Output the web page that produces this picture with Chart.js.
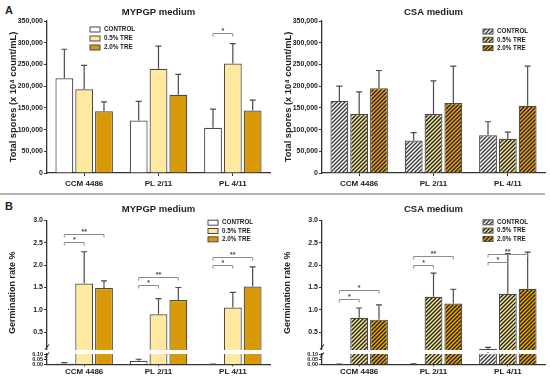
<!DOCTYPE html>
<html>
<head>
<meta charset="utf-8">
<script src="https://cdn.jsdelivr.net/npm/chart.js@4.4.1/dist/chart.umd.min.js"></script>
<style>
  body { margin: 0; background: #fff; width: 550px; height: 386px; position: relative; overflow: hidden; }
  canvas { position: absolute; }
  .tag { position: absolute; font: bold 11px 'Liberation Sans', sans-serif; color: #222; }
  .rule { position: absolute; left: 0; top: 193px; width: 545px; height: 2px; background: #b4b4b4; }
</style>
</head>
<body>
<div class="tag" style="left:5px;top:4px">A</div>
<div class="rule"></div>
<div class="tag" style="left:5px;top:200px">B</div>
<canvas id="aLeft" width="275" height="190" style="left:0;top:0"></canvas>
<canvas id="aRight" width="275" height="190" style="left:275px;top:0"></canvas>
<canvas id="bLeftUp" width="275" height="155" style="left:0;top:195px"></canvas>
<canvas id="bLeftLow" width="275" height="36" style="left:0;top:350px"></canvas>
<canvas id="bRightUp" width="275" height="155" style="left:275px;top:195px"></canvas>
<canvas id="bRightLow" width="275" height="36" style="left:275px;top:350px"></canvas>
<script>
const categories = ['CCM 4486', 'PL 2/11', 'PL 4/11'];
const seriesNames = ['CONTROL', '0.5% TRE', '2.0% TRE'];

// A - total spores (x 10^4 count/mL), mean and SD
const sporesMypgpControl = [218000, 121000, 104000];
const sporesMypgpControlSd = [67000, 44000, 43000];
const sporesMypgpTre05 = [193000, 240000, 252000];
const sporesMypgpTre05Sd = [55000, 52000, 46000];
const sporesMypgpTre20 = [142000, 180000, 144000];
const sporesMypgpTre20Sd = [22000, 47000, 24000];

const sporesCsaControl = [166000, 75000, 87000];
const sporesCsaControlSd = [34000, 18000, 31000];
const sporesCsaTre05 = [136000, 136000, 79000];
const sporesCsaTre05Sd = [51000, 76000, 15000];
const sporesCsaTre20 = [195000, 161000, 155000];
const sporesCsaTre20Sd = [41000, 85000, 91000];

// B - germination rate %
const germMypgpControl = [0.010, 0.040, 0.002];
const germMypgpControlSd = [0.010, 0.015, 0.002];
const germMypgpTre05 = [1.59, 0.90, 1.05];
const germMypgpTre05Sd = [0.71, 0.35, 0.34];
const germMypgpTre20 = [1.49, 1.22, 1.52];
const germMypgpTre20Sd = [0.16, 0.28, 0.44];

const germCsaControl = [0.002, 0.005, 0.12];
const germCsaControlSd = [0.001, 0.003, 0.04];
const germCsaTre05 = [0.82, 1.29, 1.36];
const germCsaTre05Sd = [0.22, 0.53, 0.90];
const germCsaTre20 = [0.78, 1.14, 1.47];
const germCsaTre20Sd = [0.33, 0.32, 0.82];

// significance: [category, compared series, level, mark]
const bracketsSporesMypgp = [[2, 1, 322000, '*']];
const bracketsGermMypgp = [[0, 1, 2.51, '*'], [0, 2, 2.70, '**'], [1, 1, 1.55, '*'], [1, 2, 1.74, '**'], [2, 1, 2.00, '*'], [2, 2, 2.19, '**']];
const bracketsGermCsa = [[0, 1, 1.24, '*'], [0, 2, 1.44, '*'], [1, 1, 2.01, '*'], [1, 2, 2.20, '**'], [2, 1, 2.06, '*'], [2, 2, 2.24, '**']];

const sporeTicks = [0, 50000, 100000, 150000, 200000, 250000, 300000, 350000];
const germTicksUpper = [0.5, 1.0, 1.5, 2.0, 2.5, 3.0];
const germTicksLower = [0, 0.05, 0.10];

const FONT = "'Liberation Sans', Arial, sans-serif";
const INK = '#222';
const LINE = '#4a4a4a';

function hatch(base, stroke) {
  const c = document.createElement('canvas');
  c.width = c.height = 4;
  const g = c.getContext('2d');
  g.fillStyle = base;
  g.fillRect(0, 0, 4, 4);
  g.strokeStyle = stroke;
  g.lineWidth = 1.4;
  g.beginPath();
  g.moveTo(-1, 5); g.lineTo(5, -1);
  g.moveTo(-1, 1); g.lineTo(1, -1);
  g.moveTo(3, 5); g.lineTo(5, 3);
  g.stroke();
  return g.createPattern(c, 'repeat');
}

const solidFills = ['#ffffff', '#ffe8a0', '#d99a0a'];
const hatchFills = [hatch('#ffffff', '#3a3a3a'), hatch('#fbe98e', '#222'), hatch('#f0a500', '#222')];

const errorBars = {
  id: 'errorBars',
  afterDatasetsDraw(chart) {
    const { ctx, chartArea: a, scales: { y } } = chart;
    ctx.save();
    ctx.beginPath();
    ctx.rect(a.left, a.top - 2, a.width, a.height + 2);
    ctx.clip();
    ctx.strokeStyle = LINE;
    ctx.lineWidth = 1.2;
    chart.data.datasets.forEach((ds, i) => {
      chart.getDatasetMeta(i).data.forEach((bar, j) => {
        const base = y.getPixelForValue(ds.data[j]);
        const top = y.getPixelForValue(ds.data[j] + ds.errors[j]);
        ctx.beginPath();
        ctx.moveTo(bar.x, base);
        ctx.lineTo(bar.x, top);
        ctx.moveTo(bar.x - 3, top);
        ctx.lineTo(bar.x + 3, top);
        ctx.stroke();
      });
    });
    ctx.restore();
  }
};

const brackets = {
  id: 'brackets',
  afterDatasetsDraw(chart, args, opts) {
    const { ctx, scales: { y } } = chart;
    ctx.save();
    ctx.strokeStyle = '#8c8c8c';
    ctx.lineWidth = 1;
    ctx.fillStyle = '#444';
    ctx.font = 'bold 7px ' + FONT;
    ctx.textAlign = 'center';
    ctx.textBaseline = 'bottom';
    (opts.items || []).forEach(([cat, s, level, mark]) => {
      const x0 = chart.getDatasetMeta(0).data[cat].x;
      const x1 = chart.getDatasetMeta(s).data[cat].x;
      const py = Math.round(y.getPixelForValue(level)) + 0.5;
      ctx.beginPath();
      ctx.moveTo(x0, py + 3);
      ctx.lineTo(x0, py);
      ctx.lineTo(x1, py);
      ctx.lineTo(x1, py + 3);
      ctx.stroke();
      ctx.fillText(mark, (x0 + x1) / 2, py + 1);
    });
    ctx.restore();
  }
};

const boxLegend = {
  id: 'boxLegend',
  afterDraw(chart, args, o) {
    const ctx = chart.ctx;
    ctx.save();
    ctx.font = 'bold 6.3px ' + FONT;
    ctx.textBaseline = 'middle';
    chart.data.datasets.forEach((ds, i) => {
      const cy = o.y + i * o.gap;
      ctx.fillStyle = ds.backgroundColor;
      ctx.fillRect(o.x, cy - 2.5, 10, 5);
      ctx.strokeStyle = LINE;
      ctx.lineWidth = 1;
      ctx.strokeRect(o.x, cy - 2.5, 10, 5);
      ctx.fillStyle = INK;
      ctx.fillText(ds.label, o.x + 14, cy);
    });
    ctx.restore();
  }
};

const axisBreak = {
  id: 'axisBreak',
  afterDraw(chart, args, o) {
    const { ctx, chartArea: a } = chart;
    const x = a.left;
    const yy = o.at === 'bottom' ? a.bottom - 3 : a.top + 1;
    ctx.save();
    ctx.strokeStyle = '#333';
    ctx.lineWidth = 1.2;
    ctx.beginPath();
    ctx.moveTo(x - 2, yy + 2.5);
    ctx.lineTo(x + 2, yy - 2.5);
    ctx.stroke();
    ctx.restore();
  }
};

function makeChart(id, p) {
  return new Chart(document.getElementById(id), {
    type: 'bar',
    data: {
      labels: categories,
      datasets: p.values.map((v, i) => ({
        label: seriesNames[i],
        data: v,
        errors: p.sds[i],
        backgroundColor: p.fills[i],
        borderColor: LINE,
        borderWidth: 1.2,
        categoryPercentage: 0.8,
        barPercentage: 0.9,
        clip: 0
      }))
    },
    options: {
      responsive: false,
      animation: false,
      events: [],
      layout: { padding: { left: 0, right: 5, top: p.padTop || 0, bottom: 0 } },
      plugins: {
        legend: { display: false },
        tooltip: { enabled: false },
        title: p.title ? {
          display: true, text: p.title, fullSize: false, color: INK,
          font: { family: FONT, size: 9.5, weight: 'bold' }, padding: p.titlePad
        } : { display: false },
        brackets: { items: p.brackets || [] },
        boxLegend: p.legend || false,
        axisBreak: p.brk || false
      },
      scales: {
        x: {
          display: p.showX !== false,
          grid: { display: true, drawOnChartArea: false, offset: false, tickLength: p.xTick, color: '#333' },
          border: { color: '#333', width: 1.3 },
          ticks: { color: INK, font: { family: FONT, size: 8, weight: 'bold' }, padding: p.xPad, maxRotation: 0 },
          afterFit: s => { s.height = p.xHeight || 0; s.paddingLeft = 0; s.paddingRight = 0; }
        },
        y: {
          min: p.min, max: p.max,
          afterBuildTicks: s => { s.ticks = p.ticks.map(v => ({ value: v })); },
          afterFit: s => { s.width = 47; s.paddingTop = 0; s.paddingBottom = 0; },
          grid: { display: true, drawOnChartArea: false, tickLength: 3, color: '#333' },
          border: { color: '#333', width: 1.3 },
          ticks: { color: INK, autoSkip: false, padding: 1, font: { family: FONT, size: p.yFont || 7, weight: 'bold' }, callback: p.fmt },
          title: p.yTitle ? {
            display: true, text: p.yTitle, color: INK,
            font: { family: FONT, size: p.yTitleSize, weight: 'bold' }, padding: { top: 7.5, bottom: 0 }
          } : { display: false }
        }
      }
    },
    plugins: [errorBars, brackets, boxLegend, axisBreak]
  });
}

const fmtSpores = v => v.toLocaleString('en-US');
const fmtUpper = v => v.toFixed(1);
const fmtLower = v => v.toFixed(2);

const sporesMypgp = [sporesMypgpControl, sporesMypgpTre05, sporesMypgpTre20];
const sporesMypgpSd = [sporesMypgpControlSd, sporesMypgpTre05Sd, sporesMypgpTre20Sd];
const sporesCsa = [sporesCsaControl, sporesCsaTre05, sporesCsaTre20];
const sporesCsaSd = [sporesCsaControlSd, sporesCsaTre05Sd, sporesCsaTre20Sd];
const germMypgp = [germMypgpControl, germMypgpTre05, germMypgpTre20];
const germMypgpSd = [germMypgpControlSd, germMypgpTre05Sd, germMypgpTre20Sd];
const germCsa = [germCsaControl, germCsaTre05, germCsaTre20];
const germCsaSd = [germCsaControlSd, germCsaTre05Sd, germCsaTre20Sd];

const sporeAxis = { min: 0, max: 350000, ticks: sporeTicks, fmt: fmtSpores, yTitle: 'Total spores (x 10⁴ count/mL)', yTitleSize: 9.3,
  titlePad: { top: 7, bottom: 2.6 }, xHeight: 17, xTick: 3, xPad: 2.5 };

makeChart('aLeft', Object.assign({}, sporeAxis, { title: 'MYPGP medium', values: sporesMypgp, sds: sporesMypgpSd, fills: solidFills,
  brackets: bracketsSporesMypgp, legend: { x: 90, y: 29.5, gap: 9 } }));
makeChart('aRight', Object.assign({}, sporeAxis, { title: 'CSA medium', values: sporesCsa, sds: sporesCsaSd, fills: hatchFills,
  legend: { x: 208, y: 31.5, gap: 8.3 } }));

const upperAxis = { min: 0.1, max: 3.0, ticks: germTicksUpper, fmt: fmtUpper, yTitle: 'Germination rate %      ', yTitleSize: 9,
  titlePad: { top: 9, bottom: 5.1 }, showX: false, brk: { at: 'bottom' } };
const lowerAxis = { min: 0, max: 0.11, ticks: germTicksLower, fmt: fmtLower, yFont: 5.5, padTop: 4, xHeight: 21.5, xTick: 2, xPad: 0.5,
  brk: { at: 'top' } };

makeChart('bLeftUp', Object.assign({}, upperAxis, { title: 'MYPGP medium', values: germMypgp, sds: germMypgpSd, fills: solidFills,
  brackets: bracketsGermMypgp, legend: { x: 208, y: 27.7, gap: 8.3 } }));
makeChart('bLeftLow', Object.assign({}, lowerAxis, { values: germMypgp, sds: germMypgpSd, fills: solidFills }));
makeChart('bRightUp', Object.assign({}, upperAxis, { title: 'CSA medium', values: germCsa, sds: germCsaSd, fills: hatchFills,
  brackets: bracketsGermCsa, legend: { x: 208, y: 27.3, gap: 8.3 } }));
makeChart('bRightLow', Object.assign({}, lowerAxis, { values: germCsa, sds: germCsaSd, fills: hatchFills }));
</script>
</body>
</html>
